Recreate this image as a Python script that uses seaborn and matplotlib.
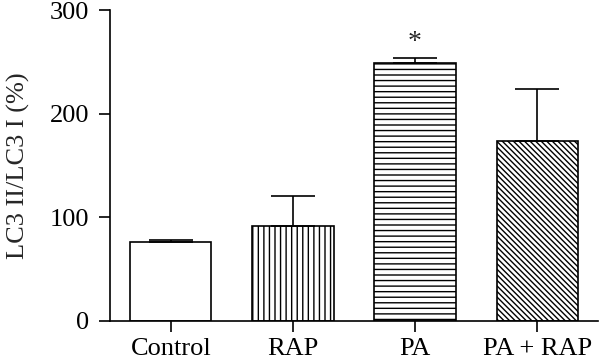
import pandas as pd
import numpy as np
import matplotlib
matplotlib.use("Agg")
import matplotlib.pyplot as plt
import seaborn as sns

groups = ["Control", "RAP", "PA", "PA + RAP"]
ratio = [76, 92, 249, 174]
err_up = [2, 29, 5, 50]
hatches = ["", "|||", "---", "\\\\\\\\\\\\"]

df = pd.DataFrame({"group": groups, "ratio": ratio})

sns.set_style("ticks")
plt.rcParams["font.family"] = ["Liberation Serif", "DejaVu Serif"]
plt.rcParams["hatch.linewidth"] = 1.0
plt.rcParams["hatch.color"] = "black"

fig, ax = plt.subplots(figsize=(6, 3.63), dpi=100)
fig.subplots_adjust(left=0.183, right=0.997, top=0.972, bottom=0.116)

sns.barplot(data=df, x="group", y="ratio", color="white", edgecolor="black",
            linewidth=1.2, width=0.665, errorbar=None, ax=ax)
for patch, h in zip(ax.patches, hatches):
    patch.set_hatch(h)
    patch.set_facecolor("white")

# upward-only error bars
ax.errorbar(np.arange(len(groups)), ratio, yerr=[np.zeros(len(groups)), err_up],
            fmt="none", ecolor="black", elinewidth=1.2, capsize=15.8, capthick=1.2, zorder=1)

# significance mark over PA
ax.text(2, ratio[2] + err_up[2] + 3, "*", ha="center", va="bottom", fontsize=20)

ax.set_xlim(-0.5, 3.5)
ax.set_ylim(0, 300)
ax.set_yticks([0, 100, 200, 300])
ax.set_xlabel("")
ax.set_ylabel("LC3 II/LC3 I (%)", fontsize=19, labelpad=14)
ax.tick_params(axis="both", labelsize=19, width=1.2, length=8, color="black", labelcolor="black")
ax.tick_params(axis="y", pad=7)
ax.tick_params(axis="x", pad=4)
for s in ["left", "bottom"]:
    ax.spines[s].set_linewidth(1.2)
    ax.spines[s].set_color("black")
sns.despine(ax=ax)

fig.savefig("out.png", dpi=100)
